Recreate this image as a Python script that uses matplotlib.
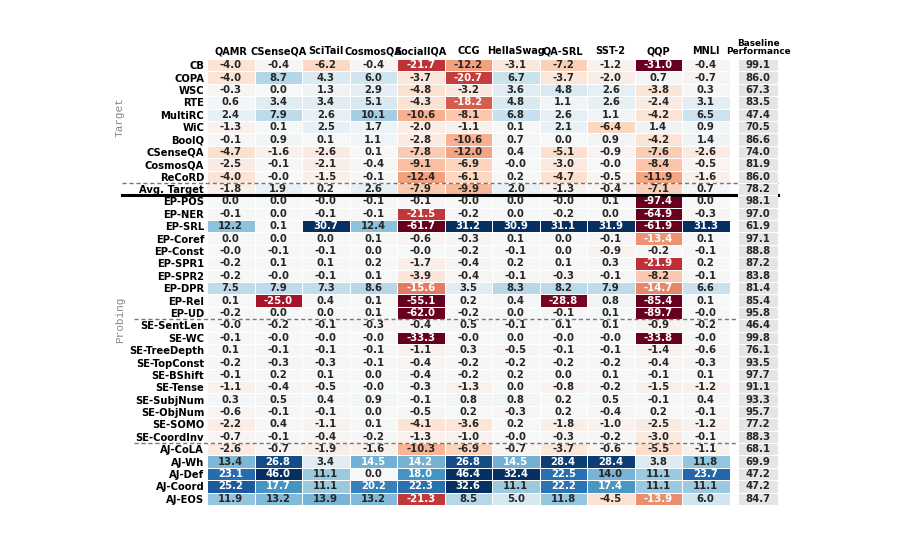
import matplotlib
matplotlib.use("Agg")
import matplotlib.pyplot as plt
import matplotlib.colors as mcolors
import matplotlib.transforms as mtransforms
import numpy as np

tasks = ['QAMR', 'CSenseQA', 'SciTail', 'CosmosQA', 'SocialIQA', 'CCG',
         'HellaSwag', 'QA-SRL', 'SST-2', 'QQP', 'MNLI']

rows = ['CB', 'COPA', 'WSC', 'RTE', 'MultiRC', 'WiC', 'BoolQ', 'CSenseQA',
        'CosmosQA', 'ReCoRD', 'Avg. Target',
        'EP-POS', 'EP-NER', 'EP-SRL', 'EP-Coref', 'EP-Const', 'EP-SPR1',
        'EP-SPR2', 'EP-DPR', 'EP-Rel', 'EP-UD',
        'SE-SentLen', 'SE-WC', 'SE-TreeDepth', 'SE-TopConst', 'SE-BShift',
        'SE-Tense', 'SE-SubjNum', 'SE-ObjNum', 'SE-SOMO', 'SE-CoordInv',
        'AJ-CoLA', 'AJ-Wh', 'AJ-Def', 'AJ-Coord', 'AJ-EOS']

target = [
    [-4.0, -0.4, -6.2, -0.4, -21.7, -12.2, -3.1, -7.2, -1.2, -31.0, -0.4],
    [-4.0, 8.7, 4.3, 6.0, -3.7, -20.7, 6.7, -3.7, -2.0, 0.7, -0.7],
    [-0.3, 0.0, 1.3, 2.9, -4.8, -3.2, 3.6, 4.8, 2.6, -3.8, 0.3],
    [0.6, 3.4, 3.4, 5.1, -4.3, -18.2, 4.8, 1.1, 2.6, -2.4, 3.1],
    [2.4, 7.9, 2.6, 10.1, -10.6, -8.1, 6.8, 2.6, 1.1, -4.2, 6.5],
    [-1.3, 0.1, 2.5, 1.7, -2.0, -1.1, 0.1, 2.1, -6.4, 1.4, 0.9],
    [-0.1, 0.9, 0.1, 1.1, -2.8, -10.6, 0.7, 0.0, 0.9, -4.2, 1.4],
    [-4.7, -1.6, -2.6, 0.1, -7.8, -12.0, 0.4, -5.1, -0.9, -7.6, -2.6],
    [-2.5, -0.1, -2.1, -0.4, -9.1, -6.9, -0.0, -3.0, -0.0, -8.4, -0.5],
    [-4.0, -0.0, -1.5, -0.1, -12.4, -6.1, 0.2, -4.7, -0.5, -11.9, -1.6],
    [-1.8, 1.9, 0.2, 2.6, -7.9, -9.9, 2.0, -1.3, -0.4, -7.1, 0.7],
]

edge_probing = [
    [0.0, 0.0, -0.0, -0.1, -0.1, -0.0, 0.0, -0.0, 0.1, -97.4, 0.0],
    [-0.1, 0.0, -0.1, -0.1, -21.5, -0.2, 0.0, -0.2, 0.0, -64.9, -0.3],
    [12.2, 0.1, 30.7, 12.4, -61.7, 31.2, 30.9, 31.1, 31.9, -61.9, 31.3],
    [0.0, 0.0, 0.0, 0.1, -0.6, -0.3, 0.1, 0.0, -0.1, -13.4, 0.1],
    [-0.0, -0.1, -0.1, 0.0, -0.0, -0.2, -0.1, 0.0, -0.9, -0.2, -0.1],
    [-0.2, 0.1, 0.1, 0.2, -1.7, -0.4, 0.2, 0.1, 0.3, -21.9, 0.2],
    [-0.2, -0.0, -0.1, 0.1, -3.9, -0.4, -0.1, -0.3, -0.1, -8.2, -0.1],
    [7.5, 7.9, 7.3, 8.6, -15.6, 3.5, 8.3, 8.2, 7.9, -14.7, 6.6],
    [0.1, -25.0, 0.4, 0.1, -55.1, 0.2, 0.4, -28.8, 0.8, -85.4, 0.1],
    [-0.2, 0.0, 0.0, 0.1, -62.0, -0.2, 0.0, -0.1, 0.1, -89.7, -0.0],
]

senteval = [
    [-0.0, -0.2, -0.1, -0.3, -0.4, 0.5, -0.1, 0.1, 0.1, -0.9, -0.2],
    [-0.1, -0.0, -0.0, -0.0, -33.3, -0.0, 0.0, -0.0, -0.0, -33.8, -0.0],
    [0.1, -0.1, -0.1, -0.1, -1.1, 0.3, -0.5, -0.1, -0.1, -1.4, -0.6],
    [-0.2, -0.3, -0.3, -0.1, -0.4, -0.2, -0.2, -0.2, -0.2, -0.4, -0.3],
    [-0.1, 0.2, 0.1, 0.0, -0.4, -0.2, 0.2, 0.0, 0.1, -0.1, 0.1],
    [-1.1, -0.4, -0.5, -0.0, -0.3, -1.3, 0.0, -0.8, -0.2, -1.5, -1.2],
    [0.3, 0.5, 0.4, 0.9, -0.1, 0.8, 0.8, 0.2, 0.5, -0.1, 0.4],
    [-0.6, -0.1, -0.1, 0.0, -0.5, 0.2, -0.3, 0.2, -0.4, 0.2, -0.1],
    [-2.2, 0.4, -1.1, 0.1, -4.1, -3.6, 0.2, -1.8, -1.0, -2.5, -1.2],
    [-0.7, -0.1, -0.4, -0.2, -1.3, -1.0, -0.0, -0.3, -0.2, -3.0, -0.1],
]

acceptability = [
    [-2.6, -0.7, -1.9, -1.6, -10.3, -6.9, -0.7, -3.7, -0.6, -5.5, -1.1],
    [13.4, 26.8, 3.4, 14.5, 14.2, 26.8, 14.5, 28.4, 28.4, 3.8, 11.8],
    [23.1, 46.0, 11.1, 0.0, 18.0, 46.4, 32.4, 22.5, 14.0, 11.1, 23.7],
    [25.2, 17.7, 11.1, 20.2, 22.3, 32.6, 11.1, 22.2, 17.4, 11.1, 11.1],
    [11.9, 13.2, 13.9, 13.2, -21.3, 8.5, 5.0, 11.8, -4.5, -13.9, 6.0],
]

baseline = [99.1, 86.0, 67.3, 83.5, 47.4, 70.5, 86.6, 74.0, 81.9, 86.0, 78.2,
            98.1, 97.0, 61.9, 97.1, 88.8, 87.2, 83.8, 81.4, 85.4, 95.8,
            46.4, 99.8, 76.1, 93.5, 97.7, 91.1, 93.3, 95.7, 77.2, 88.3,
            68.1, 69.9, 47.2, 47.2, 84.7]

data = np.array(target + edge_probing + senteval + acceptability)
n_rows, n_cols = data.shape

W, H = 900, 545
fig = plt.figure(figsize=(W / 100, H / 100), dpi=100)
fig.patch.set_facecolor('white')

top, bottom = 59, 505
ax = fig.add_axes([207 / W, 1 - bottom / H, (729.5 - 207) / W, (bottom - top) / H])
axb = fig.add_axes([738 / W, 1 - bottom / H, 40 / W, (bottom - top) / H])

cmap = plt.get_cmap('RdBu')
norm = mcolors.Normalize(vmin=-30, vmax=30)
ax.pcolormesh(data, cmap=cmap, norm=norm, edgecolors='white', linewidth=0.7)
ax.set_xlim(0, n_cols)
ax.set_ylim(n_rows, 0)


def luminance(c):
    rgb = np.array(mcolors.to_rgb(c))
    rgb = np.where(rgb <= .03928, rgb / 12.92, ((rgb + .055) / 1.055) ** 2.4)
    return rgb.dot([.2126, .7152, .0722])


for i in range(n_rows):
    for j in range(n_cols):
        v = data[i, j]
        fc = cmap(norm(v))
        tc = '#262626' if luminance(fc) > .408 else 'white'
        ax.text(j + 0.5, i + 0.5, f"{v:.1f}", ha='center', va='center',
                fontsize=7.3, fontweight='bold', color=tc)

ax.set_xticks(np.arange(n_cols) + 0.5)
ax.set_xticklabels(tasks, fontsize=7, fontweight='bold')
ax.xaxis.tick_top()
ax.set_yticks(np.arange(n_rows) + 0.5)
ax.set_yticklabels(rows, fontsize=7.2, fontweight='bold')
ax.tick_params(length=0, pad=2)
for s in ax.spines.values():
    s.set_visible(False)

base = np.array(baseline).reshape(-1, 1)
axb.pcolormesh(np.zeros_like(base), cmap=mcolors.ListedColormap(['#e5e5e5']),
               edgecolors='white', linewidth=0.7)
axb.set_xlim(0, 1)
axb.set_ylim(n_rows, 0)
for i, v in enumerate(baseline):
    axb.text(0.5, i + 0.5, f"{v:.1f}", ha='center', va='center',
             fontsize=7.3, fontweight='bold', color='#262626')
axb.set_xticks([0.5])
axb.set_xticklabels(['Baseline\nPerformance'], fontsize=6.4, fontweight='bold',
                    linespacing=0.95)
axb.xaxis.tick_top()
axb.set_yticks([])
axb.tick_params(length=0, pad=2)
for s in axb.spines.values():
    s.set_visible(False)

# separators across the whole table
tr = mtransforms.blended_transform_factory(fig.transFigure, ax.transData)
ax.plot([122 / W, 778 / W], [10, 10], transform=tr, clip_on=False,
        color='#777777', lw=1, dashes=(3, 2))
ax.plot([122 / W, 778 / W], [11, 11], transform=tr, clip_on=False,
        color='black', lw=2.2)
for y in [21, 31]:
    ax.plot([134 / W, 778 / W], [y, y], transform=tr, clip_on=False,
            color='#777777', lw=1, dashes=(3, 2))

fig.text(120 / W, 1 - 117 / H, 'Target', rotation=90, ha='center', va='center',
         family='Liberation Mono', fontsize=8, color='#888888')
fig.text(120 / W, 1 - 320 / H, 'Probing', rotation=90, ha='center', va='center',
         family='Liberation Mono', fontsize=8, color='#888888')

fig.savefig('out.png', dpi=100)
